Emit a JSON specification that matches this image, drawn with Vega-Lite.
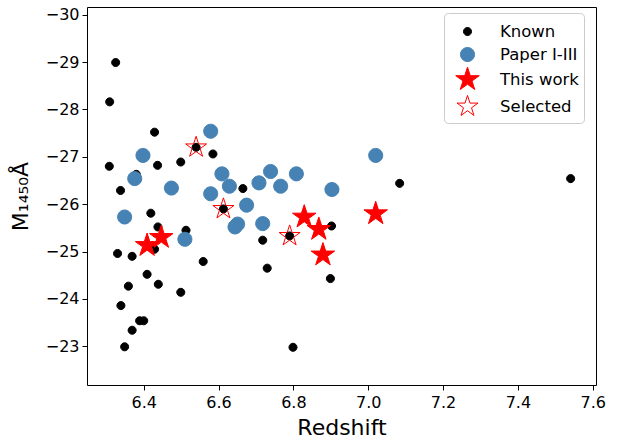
{
  "$schema": "https://vega.github.io/schema/vega-lite/v6.json",
  "width": 509,
  "height": 378,
  "autosize": "none",
  "padding": {"left": 87, "top": 7, "right": 26, "bottom": 55},
  "background": "white",
  "data": {
    "values": [
      {"z": 6.325, "M": -28.99, "type": "Known"},
      {"z": 6.309, "M": -28.16, "type": "Known"},
      {"z": 6.429, "M": -27.52, "type": "Known"},
      {"z": 6.540, "M": -27.20, "type": "Known"},
      {"z": 6.585, "M": -27.06, "type": "Known"},
      {"z": 6.308, "M": -26.80, "type": "Known"},
      {"z": 6.437, "M": -26.82, "type": "Known"},
      {"z": 6.499, "M": -26.89, "type": "Known"},
      {"z": 6.338, "M": -26.29, "type": "Known"},
      {"z": 6.380, "M": -26.63, "type": "Known"},
      {"z": 6.665, "M": -26.33, "type": "Known"},
      {"z": 6.419, "M": -25.81, "type": "Known"},
      {"z": 6.438, "M": -25.52, "type": "Known"},
      {"z": 6.513, "M": -25.45, "type": "Known"},
      {"z": 6.429, "M": -25.05, "type": "Known"},
      {"z": 6.330, "M": -24.96, "type": "Known"},
      {"z": 6.369, "M": -24.90, "type": "Known"},
      {"z": 6.559, "M": -24.79, "type": "Known"},
      {"z": 6.613, "M": -25.90, "type": "Known"},
      {"z": 6.718, "M": -25.24, "type": "Known"},
      {"z": 6.730, "M": -24.65, "type": "Known"},
      {"z": 6.790, "M": -25.33, "type": "Known"},
      {"z": 6.902, "M": -25.54, "type": "Known"},
      {"z": 6.899, "M": -24.43, "type": "Known"},
      {"z": 6.409, "M": -24.52, "type": "Known"},
      {"z": 6.439, "M": -24.31, "type": "Known"},
      {"z": 6.359, "M": -24.27, "type": "Known"},
      {"z": 6.499, "M": -24.14, "type": "Known"},
      {"z": 6.339, "M": -23.86, "type": "Known"},
      {"z": 6.389, "M": -23.54, "type": "Known"},
      {"z": 6.400, "M": -23.54, "type": "Known"},
      {"z": 6.369, "M": -23.34, "type": "Known"},
      {"z": 6.349, "M": -22.99, "type": "Known"},
      {"z": 6.799, "M": -22.98, "type": "Known"},
      {"z": 7.084, "M": -26.44, "type": "Known"},
      {"z": 7.541, "M": -26.54, "type": "Known"},
      {"z": 6.579, "M": -27.54, "type": "Paper I-III"},
      {"z": 6.398, "M": -27.03, "type": "Paper I-III"},
      {"z": 6.376, "M": -26.54, "type": "Paper I-III"},
      {"z": 6.474, "M": -26.34, "type": "Paper I-III"},
      {"z": 6.609, "M": -26.64, "type": "Paper I-III"},
      {"z": 6.629, "M": -26.38, "type": "Paper I-III"},
      {"z": 6.579, "M": -26.22, "type": "Paper I-III"},
      {"z": 6.708, "M": -26.45, "type": "Paper I-III"},
      {"z": 6.739, "M": -26.69, "type": "Paper I-III"},
      {"z": 6.766, "M": -26.38, "type": "Paper I-III"},
      {"z": 6.808, "M": -26.64, "type": "Paper I-III"},
      {"z": 6.903, "M": -26.31, "type": "Paper I-III"},
      {"z": 6.675, "M": -25.98, "type": "Paper I-III"},
      {"z": 6.349, "M": -25.73, "type": "Paper I-III"},
      {"z": 6.510, "M": -25.26, "type": "Paper I-III"},
      {"z": 6.651, "M": -25.58, "type": "Paper I-III"},
      {"z": 6.644, "M": -25.52, "type": "Paper I-III"},
      {"z": 6.718, "M": -25.59, "type": "Paper I-III"},
      {"z": 7.020, "M": -27.03, "type": "Paper I-III"},
      {"z": 6.409, "M": -25.13, "type": "This work"},
      {"z": 6.447, "M": -25.30, "type": "This work"},
      {"z": 6.829, "M": -25.73, "type": "This work"},
      {"z": 6.868, "M": -25.47, "type": "This work"},
      {"z": 6.879, "M": -24.93, "type": "This work"},
      {"z": 7.020, "M": -25.80, "type": "This work"},
      {"z": 6.540, "M": -27.20, "type": "Selected"},
      {"z": 6.613, "M": -25.90, "type": "Selected"},
      {"z": 6.790, "M": -25.33, "type": "Selected"}
    ]
  },
  "mark": {"type": "point", "filled": true, "opacity": 1, "strokeWidth": 1, "size": 676},
  "encoding": {
    "x": {
      "field": "z", "type": "quantitative",
      "scale": {"domain": [6.2484, 7.6088], "nice": false, "zero": false},
      "axis": {"values": [6.4, 6.6, 6.8, 7.0, 7.2, 7.4, 7.6], "format": ".1f", "title": "Redshift", "labelPadding": 4, "titlePadding": 7}
    },
    "y": {
      "field": "M", "type": "quantitative",
      "scale": {"domain": [-30.162, -22.184], "reverse": true, "nice": false, "zero": false},
      "axis": {"values": [-30, -29, -28, -27, -26, -25, -24, -23], "format": "d", "title": "M₁₄₅₀Å", "labelPadding": 3, "titlePadding": 13}
    },
    "fill": {
      "field": "type", "type": "nominal",
      "scale": {"domain": ["Known", "Paper I-III", "This work", "Selected"], "range": ["black", "#4682b4", "red", "transparent"]},
      "legend": {"title": null, "orient": "none", "legendX": 357, "legendY": 6}
    },
    "stroke": {
      "field": "type", "type": "nominal",
      "scale": {"domain": ["Known", "Paper I-III", "This work", "Selected"], "range": ["black", "#4682b4", "red", "red"]},
      "legend": {"title": null, "orient": "none", "legendX": 357, "legendY": 6}
    },
    "shape": {
      "field": "type", "type": "nominal",
      "scale": {"domain": ["Known", "Paper I-III", "This work", "Selected"], "range": [
        "M-0.31,0A0.31,0.31 0 1,1 0.31,0A0.31,0.31 0 1,1 -0.31,0Z",
        "M-0.54,0A0.54,0.54 0 1,1 0.54,0A0.54,0.54 0 1,1 -0.54,0Z",
        "M0,-0.95L0.2133,-0.2936L0.9035,-0.2936L0.3451,0.1121L0.5584,0.7686L0,0.3629L-0.5584,0.7686L-0.3451,0.1121L-0.9035,-0.2936L-0.2133,-0.2936Z",
        "M0,-0.85L0.1908,-0.2627L0.8084,-0.2627L0.3088,0.1003L0.4996,0.6877L0,0.3247L-0.4996,0.6877L-0.3088,0.1003L-0.8084,-0.2627L-0.1908,-0.2627Z"
      ]},
      "legend": {"title": null, "orient": "none", "legendX": 357, "legendY": 6}
    }
  },
  "config": {
    "font": "DejaVu Sans",
    "view": {"stroke": "black", "strokeWidth": 1},
    "axis": {
      "domain": false, "grid": false, "tickColor": "black", "tickSize": 5, "tickWidth": 1,
      "labelColor": "black", "labelFont": "DejaVu Sans", "labelFontSize": 16,
      "titleFont": "DejaVu Sans", "titleFontSize": 22, "titleFontWeight": "normal", "titleColor": "black"
    },
    "legend": {
      "labelFont": "DejaVu Sans", "labelFontSize": 16.5, "labelColor": "black",
      "strokeColor": "#cccccc", "fillColor": "white", "cornerRadius": 4, "padding": 5,
      "rowPadding": 1, "labelOffset": 19, "symbolOffset": 5, "symbolStrokeWidth": 1, "symbolSize": 676
    }
  }
}
